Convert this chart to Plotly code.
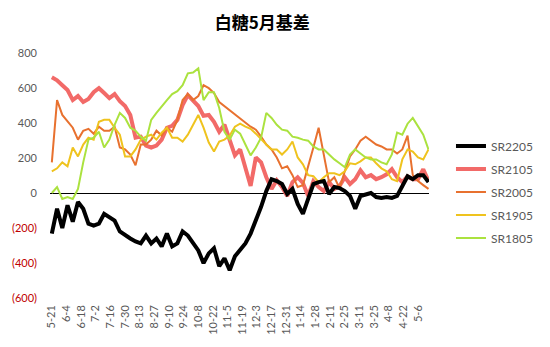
import pandas as pd
import plotly.graph_objects as go

# Basis series sampled every 5 days from 5-21 through mid-May of the following year
start_date = "2021-05-21"
n_points = 73

sr2205 = [-232, -90, -200, -70, -164, -51, -90, -175, -186, -175, -119, -136, -158, -220, -243,
          -260, -277, -288, -243, -288, -260, -305, -232, -305, -288, -220, -243, -288, -328, -401,
          -345, -316, -418, -373, -441, -362, -328, -288, -232, -158, -79, 11, 79, 68, 51,
          -6, 23, -62, -119, -34, 51, 62, 68, -6, 34, 28, 11, -17, -90, -17,
          -11, 0, -23, -28, -23, -28, -17, 45, 96, 79, 102, 102, 62]

sr2105 = [661, 644, 616, 588, 531, 554, 520, 537, 576, 599, 571, 542, 565, 525, 497,
          446, 316, 322, 271, 260, 271, 305, 373, 384, 418, 503, 559, 531, 497, 441,
          446, 407, 350, 390, 305, 215, 249, 147, 40, 203, 175, 90, 23, 73, 34,
          -17, 62, 90, 57, -17, 68, 34, 11, 62, 23, 40, 90, 51, 79, 130,
          90, 102, 79, 90, 107, 136, 90, 62, 96, 79, 79, 136, 68]

sr2005 = [175, 531, 446, 407, 373, 305, 356, 367, 339, 379, 356, 356, 379, 260, 249,
          220, 158, 277, 277, 305, 356, 328, 373, 350, 418, 531, 565, 531, 554, 616,
          599, 571, 520, None, None, None, None, None, 379, 362, 322, 277, 249, 203, 141,
          153, 102, 34, 45, 147, 260, 373, 220, 62, 90, 28, 124, 209, 249, 299,
          322, 299, 277, 266, 249, 249, 226, 249, 328, 102, 68, 45, 23]

sr1905 = [124, 141, 175, 153, 260, 209, 277, 316, 305, 407, 418, 418, 373, 333, 209,
          209, 249, 305, 322, 333, 305, 345, 373, 316, 316, 294, 333, 390, 446, 373,
          288, 237, 294, 305, 328, 379, 396, 379, 367, 339, 305, 277, 249, 249, 220,
          249, 294, 203, 164, 102, 96, 62, 90, 113, 113, 102, 124, 170, 164, 181,
          203, 203, 170, 141, 124, 79, 68, 192, 249, 237, 203, 192, 249]

sr1805 = [0, 34, -34, -23, -34, 23, 175, 305, 316, 350, 260, 305, 390, 458, 429,
          373, 356, 322, 299, 418, 458, 497, 531, 565, 582, 616, 684, 689, 712, 531,
          576, 576, 486, 350, 305, 362, 339, 277, 215, 260, 316, 458, 429, 390, 362,
          356, 322, 316, 305, 299, 266, 249, 249, 220, 192, 170, 147, 220, 249, 226,
          203, 192, 192, 175, 164, 220, 345, 333, 396, 429, 384, 333, 249]

tick_dates = ["2021-05-21", "2021-06-04", "2021-06-18", "2021-07-02", "2021-07-16",
              "2021-07-30", "2021-08-13", "2021-08-27", "2021-09-10", "2021-09-24",
              "2021-10-08", "2021-10-22", "2021-11-05", "2021-11-19", "2021-12-03",
              "2021-12-17", "2021-12-31", "2022-01-14", "2022-01-28", "2022-02-11",
              "2022-02-25", "2022-03-11", "2022-03-25", "2022-04-08", "2022-04-22",
              "2022-05-06"]
tick_labels = ["5-21", "6-4", "6-18", "7-2", "7-16", "7-30", "8-13", "8-27", "9-10",
               "9-24", "10-8", "10-22", "11-5", "11-19", "12-3", "12-17", "12-31",
               "1-14", "1-28", "2-11", "2-25", "3-11", "3-25", "4-8", "4-22", "5-6"]

y_ticks = [-600, -400, -200, 0, 200, 400, 600, 800]
y_labels = ["(600)", "(400)", "(200)", "0", "200", "400", "600", "800"]

dates = pd.date_range(start_date, periods=n_points, freq="5D")

series = [
    # name, values, colour, width, legend rank
    ("SR2105", sr2105, "#F26A68", 4, 2),
    ("SR2005", sr2005, "#E8712F", 2, 3),
    ("SR1905", sr1905, "#EFC31E", 2, 4),
    ("SR1805", sr1805, "#ABE23F", 2, 5),
    ("SR2205", sr2205, "#000000", 4, 1),
]

fig = go.Figure()
for name, vals, color, width, rank in series:
    fig.add_trace(go.Scatter(
        x=dates, y=vals, name=name, mode="lines",
        line=dict(color=color, width=width),
        connectgaps=True, legendrank=rank, legendgroup=name,
    ))

neg_color = "#C00000"
grey = "#595959"
y_text = [f"<span style='color:{neg_color}'>{t}</span>" if v < 0 else t
          for v, t in zip(y_ticks, y_labels)]

fig.update_layout(
    width=550, height=347,
    margin=dict(l=46, r=102, t=52.5, b=47),
    paper_bgcolor="white", plot_bgcolor="white",
    font=dict(family="Lato, 'Noto Sans CJK SC', sans-serif", size=11, color=grey),
    title=dict(text="<b>白糖5月基差</b>", x=0.477, xref="container", xanchor="center",
               y=1 - 23 / 347, yref="container", yanchor="middle",
               font=dict(family="'Noto Sans CJK SC', sans-serif", size=17, color="#000000")),
    xaxis=dict(
        range=["2021-05-19 06:00", "2022-05-16 12:00"],
        tickvals=tick_dates, ticktext=tick_labels, tickangle=-90,
        showgrid=False, showline=False, zeroline=False, ticks="",
        ticklabelstandoff=4, tickfont=dict(size=11, color=grey),
    ),
    yaxis=dict(
        range=[-600, 800], tickvals=y_ticks, ticktext=y_text,
        showgrid=False, showline=False, ticks="",
        zeroline=True, zerolinecolor="#000000", zerolinewidth=1,
        ticklabelstandoff=12, tickfont=dict(size=11, color=grey),
    ),
    legend=dict(
        x=1.058, xanchor="left", y=0.68, yanchor="top",
        font=dict(size=12, color=grey), itemwidth=30,
        tracegroupgap=4, bgcolor="rgba(0,0,0,0)",
    ),
    showlegend=True,
)

fig.write_html("out.html")
